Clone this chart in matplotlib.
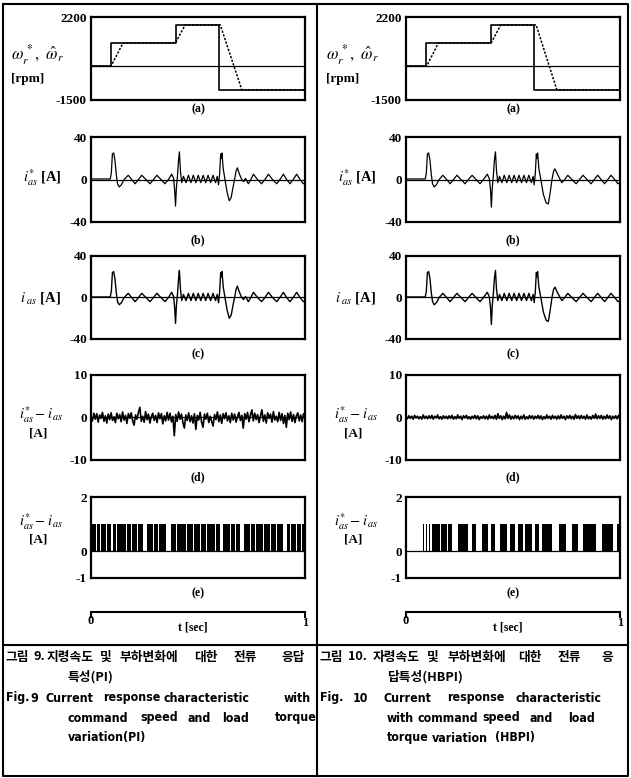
import numpy as np
import matplotlib
matplotlib.use('Agg')
import matplotlib.pyplot as plt
from matplotlib import font_manager
from matplotlib.font_manager import FontProperties

plt.rcParams['mathtext.fontset'] = 'stix'
plt.rcParams['font.family'] = ['Liberation Serif', 'DejaVu Serif']

# ---------------- data ----------------
# (a) speed command / estimate [rpm]
ref_t = [0.0, 0.093, 0.093, 0.395, 0.395, 0.600, 0.600, 1.0]
ref_w = [0, 0, 1050, 1050, 1850, 1850, -1050, -1050]
est_t_left = [0.0, 0.093, 0.150, 0.395, 0.440, 0.604, 0.705, 1.0]
est_t_right = [0.0, 0.096, 0.152, 0.398, 0.443, 0.608, 0.705, 1.0]
est_w = [0, 0, 1050, 1050, 1850, 1850, -1050, -1050]

# (b),(c) phase current [A]  (left = PI, right = HBPI)
cur_t_left = [0.000, 0.090, 0.095, 0.100, 0.106, 0.112, 0.118, 0.124, 0.132, 0.142,
              0.155, 0.174, 0.190, 0.206, 0.222, 0.237, 0.257, 0.276, 0.292, 0.308,
              0.327, 0.346, 0.362, 0.377, 0.386, 0.391, 0.395, 0.399, 0.404, 0.409,
              0.413, 0.418, 0.424, 0.432, 0.444, 0.455, 0.467, 0.478, 0.490, 0.501,
              0.513, 0.524, 0.536, 0.547, 0.559, 0.570, 0.582, 0.590, 0.596, 0.601,
              0.606, 0.609, 0.612, 0.618, 0.626, 0.636, 0.646, 0.655, 0.663, 0.671,
              0.678, 0.684, 0.692, 0.702, 0.712, 0.722, 0.735, 0.747, 0.759, 0.778,
              0.797, 0.813, 0.829, 0.848, 0.868, 0.883, 0.899, 0.914, 0.930, 0.945,
              0.961, 0.977, 0.992, 1.000]
cur_v_left = [0.5, 0.5, 6, 24, 25, 18, 5, -4, -7, -5,
              0, 4, 0, -4, 0, 4, 0, -4, 0, 4,
              0, -4, 0, 5, 1, -10, -25, -8, 3, 18,
              26, 8, -3, 3, -3, 4, -3, 4, -3, 4,
              -3, 4, -3, 4, -3, 4, -3, 3, -5, 5,
              24, 20, 25, 10, 0, -12, -20, -17, -8, 0,
              8, 11, 6, 1, -2, 1, -4, 0, 5, 0,
              -4, 0, 5, 0, -4, 0, 5, 0, -4, 0,
              5, 0, -4, -3]
cur_t_right = [0.000, 0.090, 0.095, 0.100, 0.106, 0.112, 0.118, 0.124, 0.132, 0.142,
               0.155, 0.172, 0.190, 0.206, 0.222, 0.238, 0.257, 0.276, 0.292, 0.309,
               0.327, 0.346, 0.362, 0.380, 0.389, 0.395, 0.399, 0.403, 0.408, 0.413,
               0.418, 0.423, 0.429, 0.437, 0.448, 0.459, 0.471, 0.482, 0.494, 0.505,
               0.517, 0.528, 0.540, 0.551, 0.563, 0.574, 0.586, 0.594, 0.599, 0.604,
               0.609, 0.612, 0.615, 0.621, 0.630, 0.642, 0.655, 0.665, 0.674, 0.682,
               0.690, 0.696, 0.705, 0.715, 0.728, 0.742, 0.756, 0.775, 0.795, 0.811,
               0.827, 0.846, 0.865, 0.880, 0.896, 0.912, 0.928, 0.943, 0.958, 0.975,
               0.990, 1.000]
cur_v_right = [0.5, 0.5, 6, 24, 25, 18, 5, -4, -7, -5,
               0, 4, 0, -4, 0, 4, 0, -4, 0, 4,
               0, -4, 0, 5, 1, -10, -26, -8, 3, 18,
               26, 8, -3, 3, -3, 4, -3, 4, -3, 4,
               -3, 4, -3, 4, -3, 4, -3, 3, -5, 5,
               24, 20, 25, 10, 0, -14, -22, -23, -12, 0,
               8, 10, 6, 2, -3, 0, 4, 0, -4, 0,
               4, 0, -4, 0, 4, 0, -4, 0, 4, 0,
               -4, -3]

# (d) current error [A]
err_left = [0.3, -0.8, 1.0, -0.4, 0.9, -1.1, 0.6, -0.2, 1.2, -0.9, 0.4, -1.3, 0.8, -0.5, 1.1,
            -0.7, 0.2, -1.2, 1.0, -0.3, 0.7, -1.0, 1.3, -0.6, 0.5, -1.4, 0.9, -0.2, 1.1, -0.8,
            -1.8, 0.6, -0.4, 1.2, 2.4, -0.9, 0.3, -1.1, 1.4, -0.5, 0.8, -1.3, 0.2, 1.0, -0.7,
            0.5, -1.2, 1.1, -0.3, 0.9, -1.5, 0.4, -0.8, 1.2, -0.6, 1.0, -1.0, 0.3, -4.3, 0.7,
            -0.9, 1.3, -0.4, 0.8, -1.2, -2.5, 0.6, -0.7, 1.1, -1.0, 0.4, -1.3, 0.9, -2.8, 0.5,
            -0.6, 1.2, -1.1, -2.3, 0.8, -0.4, 1.0, -1.2, 0.3, -0.9, -2.0, 0.7, -0.5, 1.3, -1.0,
            0.6, -1.4, 0.9, -0.3, 1.1, -0.8, 0.4, -1.2, 1.0, -0.6, 0.8, -1.1, 0.2, 1.2, -0.7,
            0.5, -2.5, 0.9, -0.4, 1.2, -1.0, 0.6, 1.8, -0.8, 1.0, -0.5, 0.7, -1.2, 0.4, 1.8,
            -0.9, 0.6, -1.3, 1.1, -0.2, 0.8, -1.1, 1.4, -0.6, 0.3, -1.0, 1.2, -0.7, 0.9, -1.4,
            0.5, -2.3, 1.0, -0.5, 1.3, -0.9, 0.7, -1.2, 0.4, 1.1, -0.8, 0.6, -1.0, 0.9, -0.3]
err_right = [0.2, -0.3, 0.4, -0.2, 0.3, -0.4, 0.5, -0.1, 0.3, -0.3, 0.2, -0.4, 0.6, -0.2, 0.3,
             -0.3, 0.4, -0.2, 0.5, -0.4, 0.3, -0.1, 0.6, -0.3, 0.2, -0.4, 0.4, -0.2, 0.3, -0.3,
             0.4, -0.2, 0.5, -0.4, 0.2, -0.3, 0.6, -0.2, 0.3, -0.5, 0.4, -0.1, 0.5, -0.3, 0.2,
             -0.4, 0.3, -0.2, 0.5, -0.3, 0.4, -0.5, 0.2, -0.2, 0.4, -0.3, 0.3, -0.4, 0.6, -0.2,
             0.3, -0.3, 0.5, -0.4, 0.9, -0.2, 0.4, -0.5, 0.3, -0.3, 1.2, -0.2, 0.6, -0.4, 0.3,
             -0.3, 0.5, -0.2, 0.4, -0.5, 0.3, -0.3, 0.6, -0.4, 0.2, -0.3, 0.5, -0.2, 0.4, -0.4,
             0.3, -0.2, 0.5, -0.3, 0.4, -0.5, 0.2, -0.3, 0.6, -0.2, 0.3, -0.4, 0.5, -0.2, 0.3,
             -0.4, 0.4, -0.3, 0.6, -0.2, 0.3, -0.5, 0.4, -0.2, 0.5, -0.3, 0.3, -0.4, 0.7, -0.2,
             0.4, -0.3, 0.5, -0.2, 0.3, -0.4, 0.6, -0.3, 0.2, -0.4, 0.5, -0.2, 0.8, -0.3, 0.4,
             -0.2, 0.5, -0.4, 0.3, -0.3, 0.6, -0.2, 0.4, -0.5, 0.3, -0.2, 0.4, -0.3, 0.5, -0.1]

# (e) switching state: intervals where output = 1
sw_start_left = [0.003, 0.030, 0.045, 0.073, 0.101, 0.123, 0.167, 0.193, 0.220, 0.263, 0.294,
                 0.318, 0.372, 0.403, 0.427, 0.447, 0.481, 0.512, 0.544, 0.583, 0.618, 0.653,
                 0.676, 0.715, 0.746, 0.769, 0.808, 0.840, 0.871, 0.914, 0.933, 0.964, 0.988]
sw_end_left = [0.025, 0.040, 0.068, 0.095, 0.119, 0.162, 0.189, 0.215, 0.243, 0.290, 0.314,
               0.352, 0.399, 0.423, 0.443, 0.477, 0.508, 0.539, 0.578, 0.602, 0.648, 0.672,
               0.695, 0.742, 0.765, 0.804, 0.835, 0.866, 0.898, 0.929, 0.960, 0.983, 1.000]
sw_start_right = [0.081, 0.093, 0.107, 0.123, 0.164, 0.197, 0.241, 0.307, 0.354, 0.397, 0.441,
                  0.486, 0.525, 0.556, 0.603, 0.637, 0.715, 0.774, 0.829, 0.914, 0.984]
sw_end_right = [0.086, 0.098, 0.112, 0.159, 0.192, 0.213, 0.288, 0.326, 0.385, 0.416, 0.470,
                0.509, 0.548, 0.587, 0.621, 0.684, 0.746, 0.805, 0.886, 0.969, 1.000]

# ---------------- figure ----------------
W, H = 631, 778
fig = plt.figure(figsize=(W / 100, H / 100), dpi=100)
bg = fig.add_axes([0, 0, 1, 1], zorder=-5)
bg.set_xlim(0, W)
bg.set_ylim(H, 0)
bg.axis('off')


def px_axes(x0, y0, x1, y1):
    return fig.add_axes([x0 / W, 1 - y1 / H, (x1 - x0) / W, (y1 - y0) / H])


def style(ax, ylim, ticks, labels):
    ax.set_xlim(0, 1)
    ax.set_ylim(*ylim)
    ax.set_xticks([])
    ax.set_yticks(ticks)
    ax.set_yticklabels(labels, fontsize=9.5, fontweight='bold')
    ax.tick_params(axis='y', length=0, pad=3)
    for s in ax.spines.values():
        s.set_linewidth(1.6)
    ax.axhline(0, color='black', lw=0.9)


# frame
frame = dict(color='black', lw=1.5)
bg.plot([3, 628, 628, 3, 3], [4, 4, 776, 776, 4], **frame)
bg.plot([317, 317], [4, 776], **frame)
bg.plot([3, 628], [645, 645], **frame)

cols = [
    dict(x0=91, x1=305, off=0, est_t=est_t_left, ct=cur_t_left, cv=cur_v_left,
         err=err_left, s0=sw_start_left, s1=sw_end_left),
    dict(x0=406, x1=620, off=315, est_t=est_t_right, ct=cur_t_right, cv=cur_v_right,
         err=err_right, s0=sw_start_right, s1=sw_end_right),
]
rows = [(17, 100), (137, 222), (256, 339), (375, 460), (497, 578)]
letters_y = [109, 240, 354, 477, 593]

for c in cols:
    x0, x1, off = c['x0'], c['x1'], c['off']
    # (a)
    ax = px_axes(x0, rows[0][0], x1, rows[0][1])
    style(ax, (-1500, 2200), [2200, -1500], ['2200', '-1500'])
    ax.plot(ref_t, ref_w, color='black', lw=1.2)
    ax.plot(c['est_t'], est_w, color='black', lw=1.1, ls=(0, (1.5, 1)))
    # (b)
    ax = px_axes(x0, rows[1][0], x1, rows[1][1])
    style(ax, (-40, 40), [40, 0, -40], ['40', '0', '-40'])
    ax.plot(c['ct'], c['cv'], color='black', lw=0.9)
    # (c)
    ax = px_axes(x0, rows[2][0], x1, rows[2][1])
    style(ax, (-40, 40), [40, 0, -40], ['40', '0', '-40'])
    ax.plot(c['ct'], c['cv'], color='black', lw=1.0)
    # (d)
    ax = px_axes(x0, rows[3][0], x1, rows[3][1])
    style(ax, (-10, 10), [10, 0, -10], ['10', '0', '-10'])
    ax.plot(np.linspace(0, 1, len(c['err'])), c['err'], color='black', lw=1.2)
    # (e)
    ax = px_axes(x0, rows[4][0], x1, rows[4][1])
    style(ax, (-1, 2), [2, 0, -1], ['2', '0', '-1'])
    bars = [(s, e - s) for s, e in zip(c['s0'], c['s1'])]
    ax.broken_barh(bars, (0, 1), facecolors='black', edgecolors='none')
    # time axis
    tax = px_axes(x0, 612, x1, 613)
    tax.set_xlim(0, 1)
    tax.set_yticks([])
    for k in ['left', 'right', 'bottom']:
        tax.spines[k].set_visible(False)
    tax.spines['top'].set_linewidth(1.5)
    tax.set_xticks([])
    tax.patch.set_visible(False)
    bg.plot([x0, x0], [613, 617], color='black', lw=1.5)
    bg.plot([x1, x1], [613, 617], color='black', lw=1.5)
    bg.text(x0, 621, '0', ha='center', va='center', fontsize=9, fontweight='bold')
    bg.text(x1, 623, '1', ha='center', va='center', fontsize=9, fontweight='bold')
    bg.text((x0 + x1) / 2 - 5, 628, 't [sec]', ha='center', va='center', fontsize=8.5,
            fontweight='bold')

    # y labels
    bg.text(37 + off, 55, r'$\omega_r^{\,*},\ \hat{\omega}_r$', ha='center', va='center',
            fontsize=12)
    bg.text(28 + off, 79, '[rpm]', ha='center', va='center', fontsize=9.5, fontweight='bold')
    bg.text(42 + off, 178, r'$i_{as}^{*}$ [A]', ha='center', va='center', fontsize=10.5,
            fontweight='bold')
    bg.text(41 + off, 298, r'$i_{\ as}$ [A]', ha='center', va='center', fontsize=10.5,
            fontweight='bold')
    for yl, ya in [(415, 433), (522, 539)]:
        bg.text(41 + off, yl, r'$i_{as}^{*}-i_{\,as}$', ha='center', va='center', fontsize=10.5)
        bg.text(38 + off, ya, '[A]', ha='center', va='center', fontsize=9.5, fontweight='bold')
    for lt, yy in zip(['(a)', '(b)', '(c)', '(d)', '(e)'], letters_y):
        bg.text((x0 + x1) / 2, yy, lt, ha='center', va='center', fontsize=8.5, fontweight='bold')

# captions: look for an installed condensed bold sans face
cond_file = None
for f in font_manager.fontManager.ttflist:
    fn = f.fname.lower()
    if ('condensed' in fn or 'narrow' in fn) and 'bold' in fn and 'extra' not in fn \
            and 'semi' not in fn and 'serif' not in fn and 'mono' not in fn \
            and 'italic' not in fn and 'oblique' not in fn:
        cond_file = f.fname
        break
if cond_file is not None:
    en_fp = FontProperties(fname=cond_file, size=8.9)
else:
    en_fp = FontProperties(family=['Liberation Sans', 'DejaVu Sans'], weight='bold', size=8.4)
ko = dict(fontsize=9.2, fontweight='bold', family=['Noto Sans CJK KR', 'DejaVu Sans'],
          va='center', ha='left')
en = dict(fontproperties=en_fp, va='center', ha='left')

captions = [
    (657, ko, [("그림", 5), ("9.", 33), ("지령속도", 47), ("및", 100), ("부하변화에", 120),
               ("대한", 194), ("전류", 234), ("응답", 282)]),
    (677, ko, [("특성(PI)", 68)]),
    (698, en, [("Fig.", 6), ("9", 30), ("Current", 45), ("response", 103),
               ("characteristic", 163), ("with", 284)]),
    (718, en, [("command", 68), ("speed", 140), ("and", 188), ("load", 222), ("torque", 275)]),
    (738, en, [("variation(PI)", 68)]),
    (657, ko, [("그림", 320), ("10.", 348), ("자령속도", 373), ("및", 427), ("부하변화에", 447),
               ("대한", 518), ("전류", 558), ("응", 602)]),
    (677, ko, [("답특성(HBPI)", 387)]),
    (698, en, [("Fig.", 320), ("10", 353), ("Current", 383), ("response", 447),
               ("characteristic", 516)]),
    (718, en, [("with", 387), ("command", 417), ("speed", 482), ("and", 530), ("load", 568)]),
    (738, en, [("torque", 387), ("variation", 432), ("(HBPI)", 495)]),
]
for y, st, words in captions:
    for w, x in words:
        bg.text(x, y, w, **st)

fig.savefig('out.png', dpi=100)
